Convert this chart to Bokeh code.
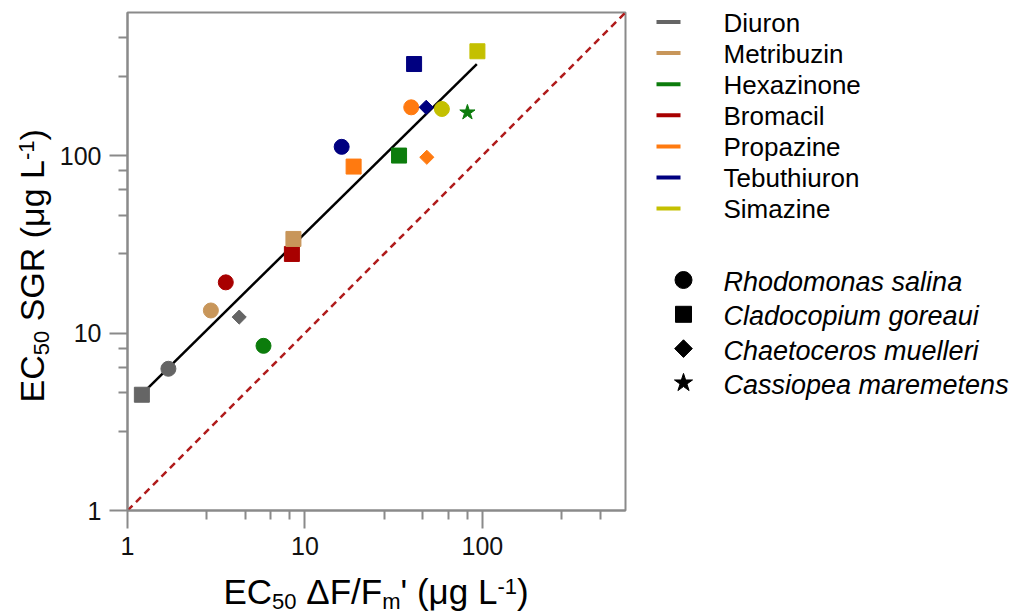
import numpy as np
from bokeh.plotting import figure
from bokeh.layouts import gridplot
from bokeh.models import (ColumnDataSource, Range1d, FixedTicker, PrintfTickFormatter)
from bokeh.core.properties import value
from bokeh.embed import file_html
from bokeh.resources import INLINE

# ---------------- data ----------------
herbicides = ["Diuron", "Metribuzin", "Hexazinone", "Bromacil", "Propazine", "Tebuthiuron", "Simazine"]
herbicide_colors = ["#656565", "#c8965a", "#0c7c0c", "#a80000", "#ff7a10", "#000080", "#c4c000"]

species = ["Rhodomonas salina", "Cladocopium goreaui", "Chaetoceros muelleri", "Cassiopea maremetens"]

rhodomonas_herb = ["Diuron", "Metribuzin", "Bromacil", "Hexazinone", "Tebuthiuron", "Propazine", "Simazine"]
rhodomonas_x = [1.70, 2.95, 3.58, 5.84, 16.1, 39.7, 59.1]
rhodomonas_y = [6.29, 13.4, 19.3, 8.47, 112, 187, 183]

cladocopium_herb = ["Diuron", "Bromacil", "Metribuzin", "Propazine", "Hexazinone", "Tebuthiuron", "Simazine"]
cladocopium_x = [1.205, 8.44, 8.61, 18.8, 33.9, 41.2, 93.7]
cladocopium_y = [4.49, 27.9, 33.9, 86.7, 100, 328, 387]

chaetoceros_herb = ["Diuron", "Propazine", "Tebuthiuron"]
chaetoceros_x = [4.26, 48.6, 48.2]
chaetoceros_y = [12.3, 97.8, 187]

cassiopea_herb = ["Hexazinone"]
cassiopea_x = [82.3]
cassiopea_y = [175]

fit_x = [1.29, 93.0]
fit_y = [4.85, 328.0]

one_to_one = [1, 640]

major_ticks = [1, 10, 100]
minor_ticks = [2.8, 4.6, 6.4, 8.2, 28, 46, 64, 82, 280, 460]

# ---------------- styles ----------------
FONT = "Liberation Sans"
GREY = "#8a8a8a"
cmap = dict(zip(herbicides, herbicide_colors))

TOP, BOTTOM = 12, 55          # borders of the first grid row (frame = canvas 12..510)
LEFT_STRIP = 54               # width of the y-title strip
MAIN_W, MAIN_LEFT, MAIN_RIGHT = 586, 73, 15
ROW_H = 565
XT_H = 50

p = figure(width=MAIN_W, height=ROW_H, x_axis_type="log", y_axis_type="log",
           x_range=Range1d(1, 640), y_range=Range1d(1, 640),
           output_backend="svg", toolbar_location=None, title=None,
           min_border_left=MAIN_LEFT, min_border_right=MAIN_RIGHT,
           min_border_top=TOP, min_border_bottom=BOTTOM)
p.grid.visible = False
p.outline_line_color = GREY
p.outline_line_width = 2

for ax in (p.xaxis[0], p.yaxis[0]):
    ax.ticker = FixedTicker(ticks=major_ticks, minor_ticks=minor_ticks)
    ax.formatter = PrintfTickFormatter(format="%d")
    ax.axis_line_color = GREY
    ax.axis_line_width = 2
    ax.major_tick_line_color = GREY
    ax.major_tick_line_width = 2
    ax.major_tick_out = 18
    ax.major_tick_in = 0
    ax.minor_tick_line_color = GREY
    ax.minor_tick_line_width = 2
    ax.minor_tick_out = 9
    ax.minor_tick_in = 0
    ax.major_label_text_font = FONT
    ax.major_label_text_font_size = "25px"
    ax.major_label_text_color = "#111111"
    ax.major_label_standoff = 8

# reference lines
p.line(one_to_one, one_to_one, line_color="#b01c1c", line_width=2.5, line_dash="7 5")
p.line(fit_x, fit_y, line_color="black", line_width=2.5)


def src(xs, ys, hs):
    return ColumnDataSource(dict(x=xs, y=ys, c=[cmap[h] for h in hs]))


p.scatter("x", "y", source=src(rhodomonas_x, rhodomonas_y, rhodomonas_herb), marker="circle",
          size=15, fill_color="c", line_color="c")
p.scatter("x", "y", source=src(cladocopium_x, cladocopium_y, cladocopium_herb), marker="square",
          size=15, fill_color="c", line_color="c")
p.scatter("x", "y", source=src(chaetoceros_x, chaetoceros_y, chaetoceros_herb), marker="square",
          angle=np.pi / 4, size=10, fill_color="c", line_color="c")
p.scatter("x", "y", source=src(cassiopea_x, cassiopea_y, cassiopea_herb), marker="star",
          size=16, fill_color="c", line_color="c")

# ---------------- axis titles (composed, with sub/superscripts) ----------------
W = {'E': 667, 'C': 722, 'S': 667, 'G': 778, 'R': 722, '(': 333, ')': 333, 'μ': 576, 'g': 556,
     'L': 556, ' ': 278, 'Δ': 668, 'F': 611, '/': 278, "'": 191, 'm': 833, '-': 333, '1': 556,
     '5': 556, '0': 556}
CAP_MID = 0.358   # cap-height centre above the baseline, in em


def twidth(t, size):
    return sum(W.get(ch, 556) for ch in t) * size / 1000.0


def compose(pieces, x0, y0, vertical, main, small, sub_shift=5, sup_shift=-10):
    """baseline start at (x0, y0); pixel-like coords with y growing downwards;
    texts are anchored at their cap-height middle (text_baseline='middle')."""
    xs, ys, texts, sizes = [], [], [], []
    pos = 0.0
    for text, kind in pieces:
        size = main if kind == "n" else small
        shift = 0 if kind == "n" else (sub_shift if kind == "sub" else sup_shift)
        lead = len(text) - len(text.lstrip(" "))
        pos += twidth(" " * lead, size)
        text = text.lstrip(" ")
        off = shift - CAP_MID * size
        if vertical:
            xs.append(x0 + off)
            ys.append(y0 - pos)
        else:
            xs.append(x0 + pos)
            ys.append(y0 + off)
        texts.append(text)
        sizes.append(f"{size}px")
        pos += twidth(text, size)
    return ColumnDataSource(dict(x=xs, y=ys, text=texts, size=sizes))


def blank(width, height, xr, yr, **kw):
    f = figure(width=width, height=height, x_range=xr, y_range=yr, output_backend="svg",
               toolbar_location=None, title=None, x_axis_location=None, y_axis_location=None, **kw)
    f.grid.visible = False
    f.outline_line_color = None
    return f


# y title strip: frame spans canvas x 0..54, y 12..510 -> data = canvas pixels
yt = blank(LEFT_STRIP, ROW_H, Range1d(0, LEFT_STRIP), Range1d(510, 12),
           min_border_left=0, min_border_right=0, min_border_top=TOP, min_border_bottom=BOTTOM)
yt.text("x", "y", text="text", source=compose(
    [("EC", "n"), ("50", "sub"), (" SGR (μg L", "n"), ("-1", "sup"), (")", "n")],
    44, 402, True, 34, 22),
    angle=np.pi / 2, text_font=value(FONT), text_font_size="size", text_color="black",
    text_align="left", text_baseline="middle")

# x title strip below main plot: frame spans canvas x 127..625, y 565..615
xt = blank(MAIN_W, XT_H, Range1d(127, 625), Range1d(615, 565),
           min_border_left=MAIN_LEFT, min_border_right=MAIN_RIGHT, min_border_top=0, min_border_bottom=0)
xt.text("x", "y", text="text", source=compose(
    [("EC", "n"), ("50", "sub"), (" ΔF/F", "n"), ("m", "sub"), ("' (μg L", "n"),
     ("-1", "sup"), (")", "n")], 223, 604, False, 35, 22),
    text_font=value(FONT), text_font_size="size", text_color="black",
    text_align="left", text_baseline="middle")

# ---------------- legend panel: frame spans canvas x 640..1016, y 12..510 ----------------
lg = blank(376, ROW_H, Range1d(640, 1016), Range1d(510, 12),
           min_border_left=0, min_border_right=0, min_border_top=TOP, min_border_bottom=BOTTOM)

hy = [21.5 + 31.1 * i for i in range(len(herbicides))]
lg.segment(x0=[656] * len(hy), y0=hy, x1=[680] * len(hy), y1=hy, line_color=herbicide_colors, line_width=4)
lg.text(x=[723] * len(hy), y=[v + 0.7 for v in hy], text=herbicides, text_font=value(FONT),
        text_font_size=value("26px"), text_color="black", text_baseline="middle", text_align="left")

sy = [279.5 + 34.3 * i for i in range(len(species))]
legend_markers = ["circle", "square", "square", "star"]
legend_sizes = [17, 16, 12.5, 19]
legend_angles = [0, 0, np.pi / 4, 0]
lg.scatter(x=[683] * len(sy), y=sy, marker=legend_markers, size=legend_sizes, angle=legend_angles,
           fill_color="black", line_color="black")
lg.text(x=[723] * len(sy), y=[v + 2 for v in sy], text=species, text_font=value(FONT),
        text_font_size=value("27px"), text_font_style="italic", text_color="black",
        text_baseline="middle", text_align="left")

layout = gridplot([[yt, p, lg], [None, xt, None]], toolbar_location=None)
open("out.html", "w").write(file_html(layout, INLINE))
